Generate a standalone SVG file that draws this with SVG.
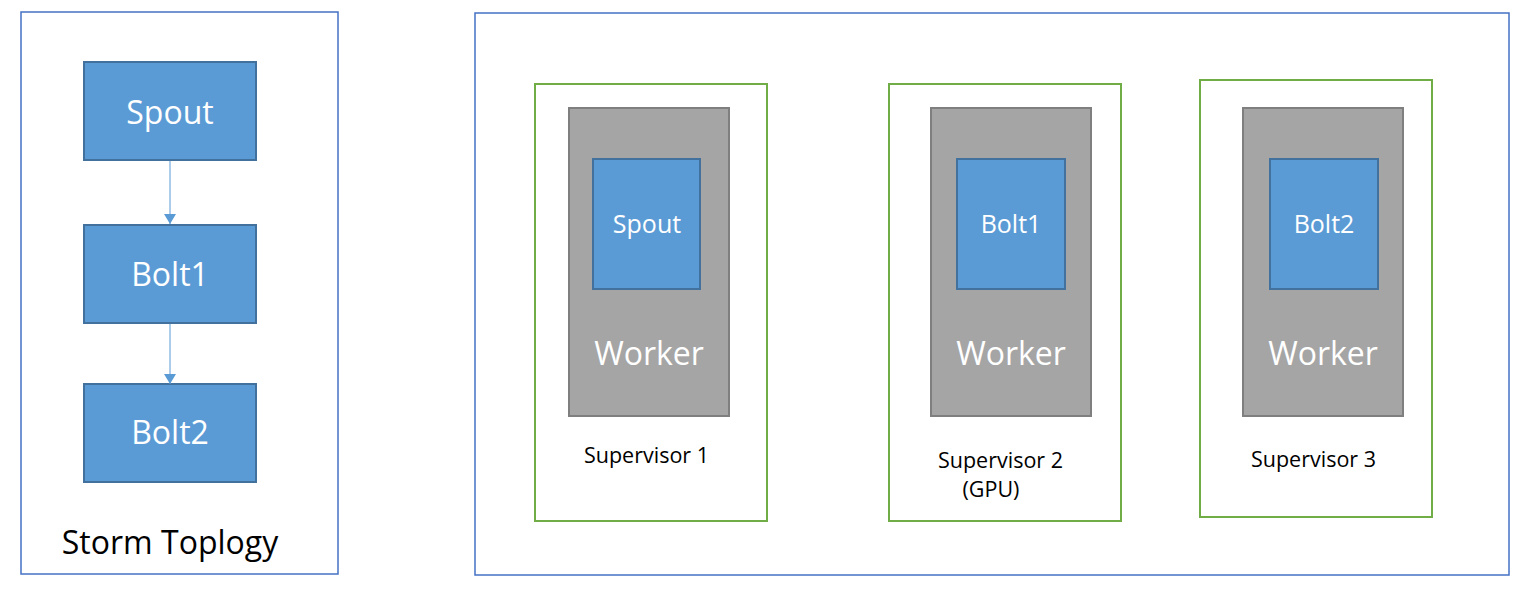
<svg xmlns="http://www.w3.org/2000/svg" width="1526" height="593" viewBox="0 0 1526 593">
<style>
.panel{fill:#fff;stroke:#4472C4;stroke-width:1.5}
.sup{fill:#fff;stroke:#70AD47;stroke-width:2}
.worker{fill:#A5A5A5;stroke:#7F7F7F;stroke-width:2}
.task{fill:#5B9BD5;stroke:#41719C;stroke-width:2}
.wt{font-family:"Open Sans","Noto Sans",sans-serif;fill:#fff;text-anchor:middle}
.bt{font-family:"Open Sans","Noto Sans",sans-serif;fill:#000;text-anchor:middle}
.conn{stroke:#5B9BD5;stroke-width:1;fill:none;marker-end:url(#arr)}
</style>
<defs>
<marker id="arr" markerWidth="12" markerHeight="12" refX="10" refY="6" orient="auto" markerUnits="userSpaceOnUse">
<path d="M0,0 L10,6 L0,12 z" fill="#5B9BD5"/>
</marker>
</defs>
<rect width="1526" height="593" fill="#fff"/>
<g id="topology">
<rect class="panel" x="21" y="12" width="317" height="562"/>
<text class="bt" x="170" y="554" font-size="32">Storm Toplogy</text>
</g>
<g id="node-spout">
<rect class="task" x="84" y="62" width="172" height="98"/>
<text class="wt" x="170" y="124" font-size="32">Spout</text>
</g>
<g id="node-bolt1">
<rect class="task" x="84" y="225" width="172" height="98"/>
<text class="wt" x="170" y="286" font-size="32">Bolt1</text>
</g>
<g id="node-bolt2">
<rect class="task" x="84" y="384" width="172" height="98"/>
<text class="wt" x="170" y="444" font-size="32">Bolt2</text>
</g>
<g id="connectors">
<line class="conn" x1="170" y1="161" x2="170" y2="224"/>
<line class="conn" x1="170" y1="324" x2="170" y2="384"/>
</g>
<g id="cluster">
<rect class="panel" x="475" y="13" width="1034" height="562"/>
</g>
<g id="supervisor1">
<rect class="sup" x="535" y="84" width="232" height="437"/>
<rect class="worker" x="569" y="108" width="160" height="308"/>
<rect class="task" x="593" y="159" width="107" height="130"/>
<text class="wt" x="647" y="233" font-size="25">Spout</text>
<text class="wt" x="649" y="365" font-size="32">Worker</text>
<text class="bt" x="646.5" y="463" font-size="21.5">Supervisor 1</text>
</g>
<g id="supervisor2">
<rect class="sup" x="889" y="84" width="232" height="437"/>
<rect class="worker" x="931" y="108" width="160" height="308"/>
<rect class="task" x="957" y="159" width="108" height="130"/>
<text class="wt" x="1011" y="233" font-size="25">Bolt1</text>
<text class="wt" x="1011" y="365" font-size="32">Worker</text>
<text class="bt" x="1000.5" y="468" font-size="21.5">Supervisor 2</text>
<text class="bt" x="991" y="497" font-size="21.5">(GPU)</text>
</g>
<g id="supervisor3">
<rect class="sup" x="1200" y="80" width="232" height="437"/>
<rect class="worker" x="1243" y="108" width="160" height="308"/>
<rect class="task" x="1270" y="159" width="108" height="130"/>
<text class="wt" x="1324" y="233" font-size="25">Bolt2</text>
<text class="wt" x="1323" y="365" font-size="32">Worker</text>
<text class="bt" x="1313.5" y="467" font-size="21.5">Supervisor 3</text>
</g>
</svg>
